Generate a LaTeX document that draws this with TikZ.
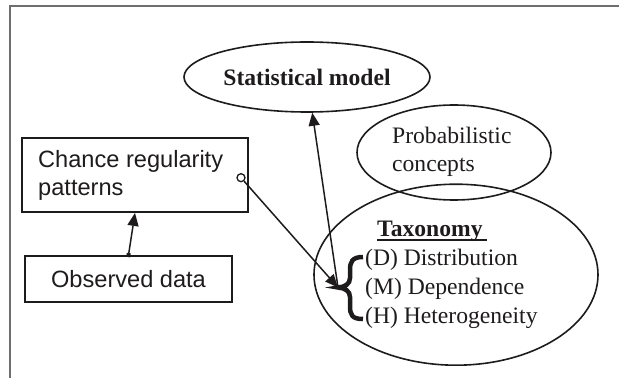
\documentclass[tikz,border=0pt]{standalone}
\usepackage{fontspec}
\setmainfont{Liberation Serif}
\newfontfamily\boxfont{Liberation Sans}
\usetikzlibrary{shapes.geometric,arrows.meta,calc}
\definecolor{ink}{RGB}{30,27,28}
\definecolor{framegray}{RGB}{110,110,112}
\newcommand{\txtsize}{\fontsize{23.6}{28}\selectfont}
\tikzset{
  bubble/.style={ellipse, draw=ink, line width=1.6pt, inner sep=0pt},
  panel/.style={rectangle, draw=ink, line width=1.8pt, inner sep=0pt},
  label/.style={inner sep=0pt, anchor=base west, text=ink, font=\txtsize},
  sanslabel/.style={label, font=\boxfont\txtsize},
  link/.style={draw=ink, line width=1.5pt},
  tip/.style={-{Triangle[length=13pt,width=11pt]}},
}
\begin{document}
\begin{tikzpicture}[x=1pt,y=1pt]
\useasboundingbox (0,0) rectangle (619,378);
% outer frame
\draw[framegray, line width=1.3pt] (10,0) -- (10,372) -- (619,372);

% ellipses
\node[bubble, minimum width=246pt, minimum height=70pt, text=ink,
      font=\bfseries\txtsize] (stat) at (307,301) {Statistical model};
\node[bubble, minimum width=194pt, minimum height=95pt] (prob) at (454,225.5) {};
\node[bubble, minimum width=284pt, minimum height=181pt] (tax) at (456,103.3) {};

% boxes
\node[panel, minimum width=226pt, minimum height=74pt] (chance) at (135,203) {};
\node[panel, minimum width=207pt, minimum height=46pt, text=ink,
      font=\boxfont\txtsize] (obs) at (128.5,99) {Observed data};

% texts
\node[sanslabel] (ch1) at (38,210) {Chance regularity};
\node[sanslabel] (ch2) at (38,182) {patterns};
\node[label] (prob1) at (392,234) {Probabilistic};
\node[label] (prob2) at (392,206.3) {concepts};
\node[label, font=\bfseries\txtsize] (taxtitle) at (377,141.3) {Taxonomy};
\draw[ink, line width=1.2pt] ([yshift=-3.3pt]taxtitle.base west) -- ++(110,0);
\node[label] (dist) at (365,112) {(D) Distribution};
\node[label] (dep) at (365,83) {(M) Dependence};
\node[label] (het) at (365,54.7) {(H) Heterogeneity};

% curly brace
\coordinate (cusp) at (338,90.5);
\draw[ink, line width=4.5pt]
  (363,121) .. controls (352,121) and (350,116) .. (350,108) -- (350,100)
  .. controls (350,94) and (345,91) .. (cusp)
  .. controls (345,90) and (350,87) .. (350,81) -- (350,72)
  .. controls (350,63) and (352,59) .. (363,59);

% connectors
\node[circle, draw=ink, fill=white, line width=1.3pt, minimum size=8pt,
      inner sep=0pt] (ring) at (241,200.3) {};
\draw[link, tip] (ring) -- (cusp);
\draw[link, tip] (cusp) -- (stat);
\draw[link, {Square[length=4pt,width=4pt]}-{Triangle[length=13pt,width=11pt]},
      shorten <=-2pt] (obs.north) -- (chance.south);
\end{tikzpicture}
\end{document}
